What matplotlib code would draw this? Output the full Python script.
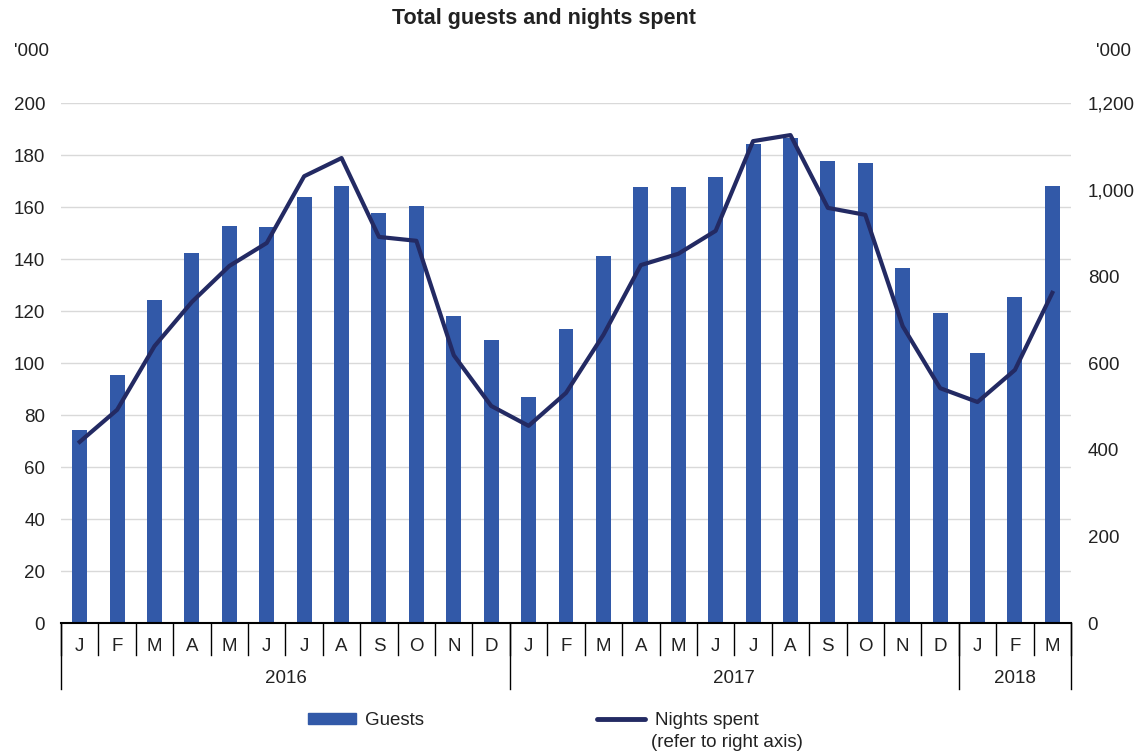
import numpy as np
import matplotlib.pyplot as plt
from matplotlib.lines import Line2D
from matplotlib.patches import Patch

plt.rcParams['font.family'] = ['Liberation Sans', 'DejaVu Sans']

# Данные (тыс.)
months = ['J', 'F', 'M', 'A', 'M', 'J', 'J', 'A', 'S', 'O', 'N', 'D',
          'J', 'F', 'M', 'A', 'M', 'J', 'J', 'A', 'S', 'O', 'N', 'D',
          'J', 'F', 'M']
years = ['2016', '2017', '2018']
year_lengths = [12, 12, 3]
guests = [74.2, 95.4, 124.2, 142.3, 152.7, 152.3, 163.8, 168.1, 157.7, 160.4, 118.1, 108.8,
          86.9, 113.1, 141.2, 167.7, 167.7, 171.5, 184.2, 186.5, 177.7, 176.9, 136.5, 119.2,
          103.8, 125.4, 168.1]
nights = [418, 492, 639, 741, 824, 877, 1031, 1073, 891, 882, 618, 501,
          455, 531, 665, 826, 852, 905, 1112, 1126, 958, 942, 685, 542,
          510, 584, 762]

bar_color = '#3259a8'
line_color = '#232a63'
text_color = '#222222'
fs = 13.5

fig = plt.figure(figsize=(11.4, 7.53), dpi=100)
ax = fig.add_axes([0.0535, 0.1726, 0.886, 0.6906])
ax2 = ax.twinx()

x = np.arange(len(months))
ax.bar(x, guests, width=0.4, color=bar_color, zorder=2)
ax2.plot(x, nights, color=line_color, linewidth=3, zorder=3)

ax.set_xlim(-0.5, len(months) - 0.5)
ax.set_ylim(0, 200)
ax2.set_ylim(0, 1200)
ax.set_yticks(np.arange(0, 201, 20))
ax2.set_yticks(np.arange(0, 1201, 200))
ax2.set_yticklabels([f'{v:,}' for v in range(0, 1201, 200)])
ax.grid(axis='y', color='#d9d9d9', linewidth=1, zorder=0)
ax.set_axisbelow(True)

for a in (ax, ax2):
    for s in ['top', 'left', 'right']:
        a.spines[s].set_visible(False)
    a.tick_params(axis='y', length=0, labelsize=fs, colors=text_color)
ax.tick_params(axis='y', pad=11.5)
ax2.tick_params(axis='y', pad=12)
ax.spines['bottom'].set_linewidth(1.5)
ax2.spines['bottom'].set_visible(False)

# Подписи месяцев и годов
ax.set_xticks([])
trans = ax.get_xaxis_transform()
for i, m in enumerate(months):
    ax.text(i, -0.045, m, transform=trans, ha='center', va='center', fontsize=fs, color=text_color)
for i in range(len(months) + 1):
    ax.plot([i - 0.5, i - 0.5], [0, -0.062], transform=trans, color='black', lw=1, clip_on=False)
start = 0
for yname, n in zip(years, year_lengths):
    ax.text(start + n / 2 - 0.5, -0.106, yname, transform=trans, ha='center', va='center',
            fontsize=fs, color=text_color)
    ax.plot([start - 0.5, start - 0.5], [0, -0.127], transform=trans, color='black', lw=1, clip_on=False)
    start += n
ax.plot([start - 0.5, start - 0.5], [0, -0.127], transform=trans, color='black', lw=1, clip_on=False)

fig.text(0.012, 0.932, "'000", fontsize=fs, ha='left', va='center', color=text_color)
fig.text(0.961, 0.932, "'000", fontsize=fs, ha='left', va='center', color=text_color)
fig.text(0.477, 0.975, 'Total guests and nights spent', fontsize=15.5, fontweight='bold',
         ha='center', va='center', color=text_color)

# Легенда
h1 = Patch(color=bar_color)
h2 = Line2D([], [], color=line_color, linewidth=3.5, solid_capstyle='round')
fig.legend([h1], ['Guests'], loc='center left', bbox_to_anchor=(0.270, 0.043), frameon=False,
           fontsize=fs, handlelength=2.56, handleheight=0.55, handletextpad=0.48,
           borderpad=0, borderaxespad=0, labelcolor=text_color)
fig.legend([h2], ['Nights spent'], loc='center left', bbox_to_anchor=(0.5237, 0.043), frameon=False,
           fontsize=fs, handlelength=2.56, handletextpad=0.55,
           borderpad=0, borderaxespad=0, labelcolor=text_color)
fig.text(0.571, 0.0146, '(refer to right axis)', fontsize=fs, ha='left', va='center', color=text_color)

fig.savefig('out.png', dpi=100)
